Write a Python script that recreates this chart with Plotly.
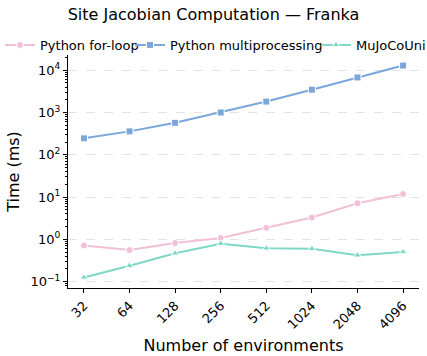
import plotly.graph_objects as go

envs = ["32", "64", "128", "256", "512", "1024", "2048", "4096"]
for_loop = [0.72, 0.56, 0.82, 1.08, 1.88, 3.28, 7.15, 11.8]
multiproc = [245, 358, 570, 1000, 1812, 3470, 6750, 12900]
mujoco_uni = [0.126, 0.238, 0.47, 0.79, 0.615, 0.60, 0.42, 0.506]
y_tick_vals = [0.1, 1, 10, 100, 1000, 10000]
y_tick_labels = ["10<sup>−1</sup>", "10<sup>0</sup>", "10<sup>1</sup>",
                 "10<sup>2</sup>", "10<sup>3</sup>", "10<sup>4</sup>"]

series = [
    ("Python for-loop", for_loop, "#f1c0d6", "circle", "legend", -8),
    ("Python multiprocessing", multiproc, "#7aa6dc", "square", "legend2", 130),
    ("MuJoCoUni", mujoco_uni, "#7fd8c6", "triangle-up", "legend3", 316),
]

font = "DejaVu Sans"
fig = go.Figure()
legends = {}
for name, vals, col, sym, lg, lx in series:
    fig.add_trace(go.Scatter(
        x=list(range(len(envs))), y=vals, name=name, mode="lines+markers",
        line=dict(color=col, width=2), legend=lg,
        marker=dict(symbol=sym, size=7, color=col, line=dict(color="white", width=1)),
    ))
    legends[lg] = dict(orientation="h", xref="container", yref="container",
                       x=lx / 427, y=1 - 45 / 356, xanchor="left", yanchor="middle",
                       font=dict(size=13), bgcolor="rgba(0,0,0,0)", itemwidth=30)

minor_vals = [m * 10 ** e for e in range(-2, 5) for m in range(2, 10)]

fig.update_layout(
    width=427, height=356,
    margin=dict(l=68, r=8, t=55, b=68, autoexpand=False),
    plot_bgcolor="white", paper_bgcolor="white",
    font=dict(family=font, color="black", size=13),
    title=dict(text="Site Jacobian Computation — Franka", x=0.5, xref="container",
               xanchor="center", y=1 - 14 / 356, yref="container", yanchor="middle",
               font=dict(size=16)),
    showlegend=True,
    **legends,
)
fig.update_xaxes(
    range=[-0.35, 7.35], tickmode="array", tickvals=list(range(len(envs))), ticktext=envs,
    tickangle=-45, showline=True, linecolor="black", linewidth=1, ticks="outside",
    ticklen=4, tickcolor="black", showgrid=False, zeroline=False,
    title=dict(text="Number of environments", font=dict(size=16), standoff=8),
    tickfont=dict(size=13),
)
fig.update_yaxes(
    type="log", range=[-1.15, 4.36], tickmode="array", tickvals=y_tick_vals,
    ticktext=y_tick_labels,
    showline=True, linecolor="black", linewidth=1, ticks="outside", ticklen=4,
    tickcolor="black", showgrid=True, gridcolor="#e3e3e3", griddash="dash", gridwidth=1,
    zeroline=False,
    minor=dict(tickmode="array", tickvals=minor_vals, ticks="outside", ticklen=2,
               tickcolor="black", showgrid=False),
    title=dict(text="Time (ms)", font=dict(size=16), standoff=6),
    tickfont=dict(size=13),
)
fig.write_html("out.html")
